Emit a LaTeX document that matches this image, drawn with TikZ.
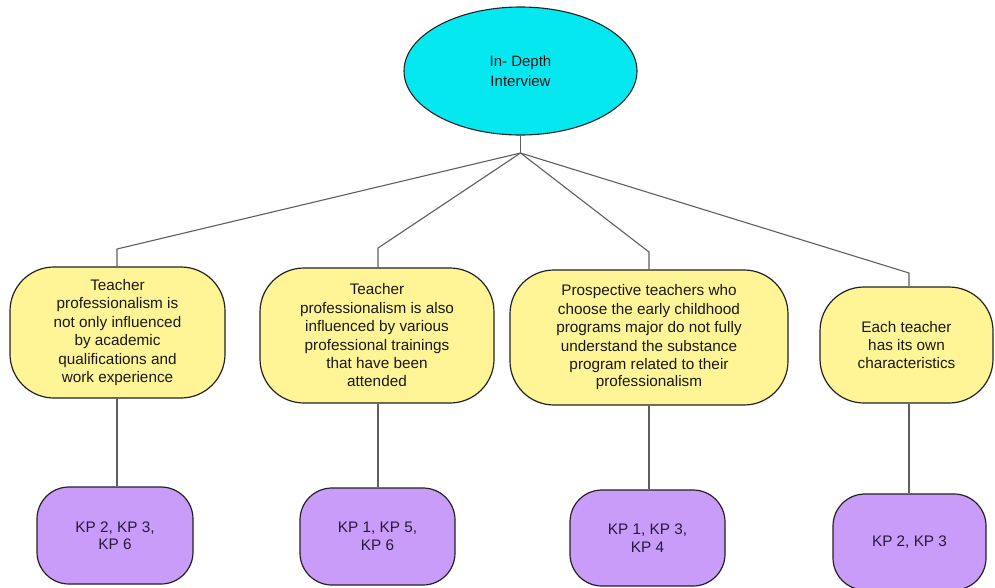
\documentclass[tikz,border=0pt]{standalone}
\usepackage{fontspec}
\setmainfont{Liberation Sans}
\usetikzlibrary{shapes.geometric}
\definecolor{cyanfill}{RGB}{6,232,240}
\definecolor{yelfill}{RGB}{255,245,150}
\definecolor{purfill}{RGB}{201,156,250}
\definecolor{edgecol}{RGB}{35,35,35}
\definecolor{linecol}{RGB}{95,95,95}
\definecolor{txtcol}{RGB}{25,25,25}
\tikzset{
  rootnode/.style={ellipse, draw=edgecol, line width=1.1pt, fill=cyanfill, inner sep=0pt,
    align=center, text=txtcol, font=\fontsize{15}{20}\selectfont},
  yelbox/.style={rectangle, rounded corners=44pt, draw=edgecol, line width=1.2pt, fill=yelfill,
    inner sep=0pt, align=center, text=txtcol, font=\fontsize{15.3}{18.4}\selectfont},
  purbox/.style={rectangle, rounded corners=32pt, draw=edgecol, line width=1.2pt, fill=purfill,
    inner sep=0pt, align=center, text={rgb,255:red,40;green,25;blue,60}, font=\fontsize{15.3}{17.5}\selectfont},
  conn/.style={draw=linecol, line width=1.1pt}
}
\begin{document}
\begin{tikzpicture}[x=1pt,y=-1pt]
\useasboundingbox (0,0) rectangle (995,587);
\fill[white] (0,0) rectangle (995,587);

% root
\node[rootnode, minimum width=233pt, minimum height=128pt] (root) at (520.5,71) {In- Depth\\Interview};
\coordinate (j) at (520.5,153);

% yellow boxes
\node[yelbox, minimum width=215pt, minimum height=131pt] (y1) at (117.5,332.5)
  {Teacher\\professionalism is\\not only influenced\\by academic\\qualifications and\\work experience};
\node[yelbox, minimum width=234pt, minimum height=135pt] (y2) at (377,335.5)
  {Teacher\\professionalism is also\\influenced by various\\professional trainings\\that have been\\attended};
\node[yelbox, minimum width=278pt, minimum height=135pt] (y3) at (649,337.5)
  {Prospective teachers who\\choose the early childhood\\programs major do not fully\\understand the substance\\program related to their\\[-1pt]professionalism};
\node[yelbox, minimum width=173pt, minimum height=116pt] (y4) at (906.5,345)
  {Each teacher\\has its own\\characteristics};

% purple boxes
\node[purbox, minimum width=156pt, minimum height=97pt] (p1) at (115,535.5) {KP 2, KP 3,\\KP 6};
\node[purbox, minimum width=155pt, minimum height=97pt] (p2) at (377.5,536.5) {KP 1, KP 5,\\KP 6};
\node[purbox, minimum width=155pt, minimum height=96pt] (p3) at (647.5,538) {KP 1, KP 3,\\KP 4};
\node[purbox, minimum width=153pt, minimum height=96pt] (p4) at (909.5,542) {KP 2, KP 3};

% elbow coordinates
\coordinate (e1) at (117,249);
\coordinate (e2) at (378,248);
\coordinate (e3) at (649,252);
\coordinate (e4) at (909,273);

% connectors
\draw[conn] (root.south) -- (j);
\draw[conn] (j) -- (e1) -- (e1 |- y1.north);
\draw[conn] (j) -- (e2) -- (e2 |- y2.north);
\draw[conn] (j) -- (e3) -- (e3 |- y3.north);
\draw[conn] (j) -- (e4) -- (e4 |- y4.north);

\draw[conn] (e1 |- y1.south) -- (e1 |- p1.north);
\draw[conn] (e2 |- y2.south) -- (e2 |- p2.north);
\draw[conn] (e3 |- y3.south) -- (e3 |- p3.north);
\draw[conn] (e4 |- y4.south) -- (e4 |- p4.north);
\end{tikzpicture}
\end{document}
